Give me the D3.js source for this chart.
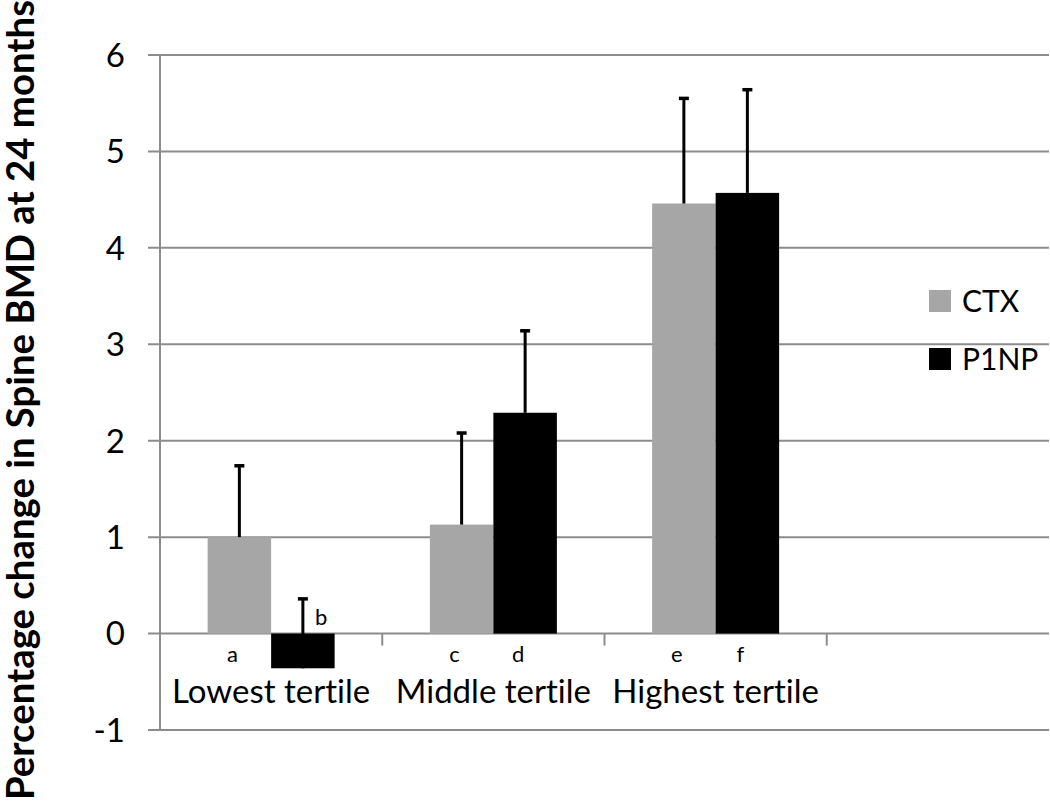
<!DOCTYPE html>
<meta charset="utf-8">
<style>
    body { margin: 0; background: #fff; }
    svg { display: block; }
    text { font-family: Lato, "Open Sans", sans-serif; fill: #000; font-variant-ligatures: none; }
    .grid line { stroke: #8c8c8c; stroke-width: 2px; }
</style>
<svg width="1050" height="801"></svg>
<script src="https://d3js.org/d3.v7.min.js"></script>
<script>

    // categories (last one is empty in the original chart)
    var categories = ["Lowest tertile", "Middle tertile", "Highest tertile", ""];
    var series = ["CTX", "P1NP"];
    var seriesColors = ["#a6a6a6", "#000000"];

    // mean % change, per series, per tertile
    var ctxValues = [1.00, 1.13, 4.46];
    var p1npValues = [-0.36, 2.29, 4.57];
    // upper error bar lengths
    var ctxErrors = [0.74, 0.95, 1.09];
    var p1npErrors = [0.72, 0.85, 1.07];
    // small letters under each bar
    var ctxLetters = ["a", "c", "e"];
    var p1npLetters = ["b", "d", "f"];

    var yTicks = [-1, 0, 1, 2, 3, 4, 5, 6];
    var yTitle = "Percentage change in Spine BMD at 24 months";

    var svg = d3.select("svg"),
        plotLeft = 160,
        plotRight = 1049,
        plotTop = 55,
        plotBottom = 730;

    var y = d3.scaleLinear().domain([-1, 6]).range([plotBottom, plotTop]);
    var x = d3.scaleBand().domain(categories).range([plotLeft, plotRight]);
    var bw = x.bandwidth();
    // Excel-like gap width 150%
    var xs = d3.scaleBand().domain(series)
        .range([bw * 0.75 / 3.5, bw - bw * 0.75 / 3.5]);

    var bars = [];
    categories.slice(0, 3).forEach(function (c, i) {
        bars.push({cat: c, s: "CTX", v: ctxValues[i], e: ctxErrors[i], l: ctxLetters[i]});
        bars.push({cat: c, s: "P1NP", v: p1npValues[i], e: p1npErrors[i], l: p1npLetters[i]});
    });

    // gridlines
    svg.append("g").attr("class", "grid")
        .selectAll("line")
        .data(yTicks)
        .enter().append("line")
        .attr("x1", plotLeft - 12)
        .attr("x2", plotRight)
        .attr("y1", function (d) { return y(d); })
        .attr("y2", function (d) { return y(d); });

    // y axis line
    svg.append("line")
        .attr("x1", plotLeft).attr("x2", plotLeft)
        .attr("y1", y(6)).attr("y2", y(-1))
        .style("stroke", "#8c8c8c").style("stroke-width", 2);

    // category ticks on the zero line
    svg.append("g").selectAll("line")
        .data(categories.slice(1))
        .enter().append("line")
        .attr("x1", function (d) { return x(d); })
        .attr("x2", function (d) { return x(d); })
        .attr("y1", y(0))
        .attr("y2", y(0) + 12)
        .style("stroke", "#8c8c8c").style("stroke-width", 2);

    // tick labels
    svg.append("g").selectAll("text")
        .data(yTicks)
        .enter().append("text")
        .attr("x", 125)
        .attr("y", function (d) { return y(d); })
        .attr("dy", "0.36em")
        .attr("text-anchor", "end")
        .style("font-size", "33px")
        .text(function (d) { return d; });

    // bars
    svg.append("g").selectAll("rect")
        .data(bars)
        .enter().append("rect")
        .attr("x", function (d) { return x(d.cat) + xs(d.s); })
        .attr("width", xs.bandwidth())
        .attr("y", function (d) { return y(Math.max(0, d.v)); })
        .attr("height", function (d) { return Math.abs(y(d.v) - y(0)); })
        .style("fill", function (d) { return seriesColors[series.indexOf(d.s)]; });

    // error bars
    var eb = svg.append("g").selectAll("g")
        .data(bars)
        .enter().append("g")
        .attr("transform", function (d) {
            return "translate(" + (x(d.cat) + xs(d.s) + xs.bandwidth() / 2) + ",0)";
        });
    eb.append("line")
        .attr("y1", function (d) { return y(d.v); })
        .attr("y2", function (d) { return y(d.v + d.e); })
        .style("stroke", "#000").style("stroke-width", 3);
    eb.append("line")
        .attr("x1", -5).attr("x2", 5)
        .attr("y1", function (d) { return y(d.v + d.e); })
        .attr("y2", function (d) { return y(d.v + d.e); })
        .style("stroke", "#000").style("stroke-width", 3.5);

    // letters
    svg.append("g").selectAll("text")
        .data(bars)
        .enter().append("text")
        .attr("x", function (d) {
            var cx = x(d.cat) + xs(d.s) + xs.bandwidth() / 2;
            return d.v < 0 ? cx + 12 : cx - 7;
        })
        .attr("y", function (d) { return d.v < 0 ? y(0) - 9 : y(0) + 28; })
        .attr("text-anchor", function (d) { return d.v < 0 ? "start" : "middle"; })
        .style("font-size", "22px")
        .text(function (d) { return d.l; });

    // category labels
    svg.append("g").selectAll("text")
        .data(categories)
        .enter().append("text")
        .attr("x", function (d) { return x(d) + bw / 2; })
        .attr("y", 703)
        .attr("text-anchor", "middle")
        .style("font-size", "33px")
        .text(function (d) { return d; });

    // legend
    var lg = svg.append("g").selectAll("g")
        .data(series)
        .enter().append("g")
        .attr("transform", function (d, i) { return "translate(929," + (290 + i * 58) + ")"; });
    lg.append("rect")
        .attr("width", 22).attr("height", 22)
        .style("fill", function (d, i) { return seriesColors[i]; });
    lg.append("text")
        .attr("x", 33).attr("y", 22)
        .style("font-size", "30px")
        .text(function (d) { return d; });

    // y title
    svg.append("text")
        .attr("transform", "translate(34,400) rotate(-90)")
        .attr("text-anchor", "middle")
        .attr("textLength", 800)
        .attr("lengthAdjust", "spacingAndGlyphs")
        .style("font-size", "38px")
        .style("font-weight", "bold")
        .text(yTitle);
</script>
